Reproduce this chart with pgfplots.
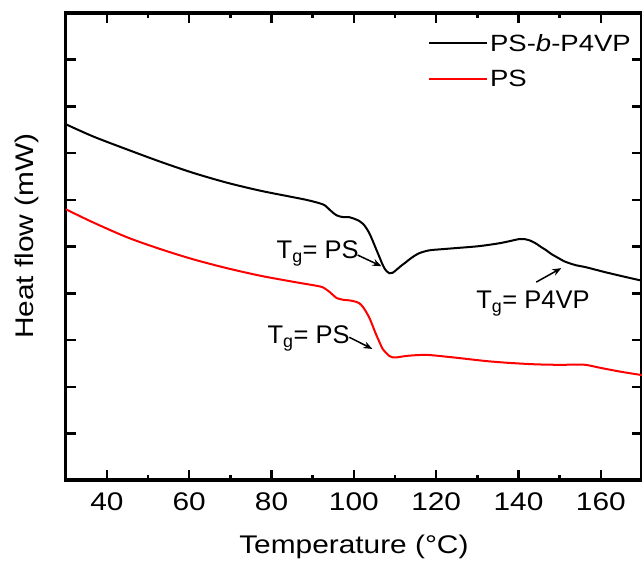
\documentclass[border=0pt]{standalone}
\usepackage{fontspec}
\setmainfont{Liberation Sans}[FakeStretch=1.17]
\newfontfamily\annfont{Liberation Sans}
\usepackage{pgfplots}
\pgfplotsset{compat=1.18}
\usetikzlibrary{arrows.meta}
\newcommand{\bigfont}{\fontsize{25.5}{30}\selectfont}
\begin{document}
\begin{tikzpicture}
\begin{axis}[
  name=ax,
  scale only axis,
  width=576pt, height=467pt,
  xmin=30, xmax=170, ymin=0, ymax=10,
  xtick={40,60,...,160},
  minor x tick num=1,
  ytick={1,...,9},
  yticklabels={},
  tick align=inside,
  major tick length=10pt,
  minor tick length=5pt,
  axis line style={line width=3.5pt},
  axis background/.style={draw=black, line width=3.5pt},
  major tick style={black, line width=2.5pt},
  minor tick style={black, line width=2.5pt},
  /pgf/number format/assume math mode=true,
  tick label style={font=\bigfont},
  xticklabel style={yshift=-9pt},
  xlabel={Temperature (°C)},
  xlabel style={font=\bigfont, at={(axis description cs:0.5,0)}, anchor=base, yshift=-73pt},
  ylabel={Heat flow (mW)},
  ylabel style={font=\bigfont, at={([xshift=-32.7pt,yshift=10.5pt]axis description cs:0,0.5)}, anchor=base},
  legend cell align=left,
  legend style={draw=none, fill=none, at={(1,1)}, anchor=north east, xshift=-6pt, yshift=-17pt,
    font=\fontsize{23.5}{28}\selectfont, row sep=13pt},
  legend image code/.code={\draw[#1, line width=2pt] (0pt,0pt) -- (58pt,0pt);},
]
\addplot[black, line width=2pt, smooth] coordinates {
(30,7.62) (36.6,7.36) (44.9,7.08) (52.9,6.82) (60.9,6.58) (69.1,6.37) (77.1,6.20)
(85.1,6.06) (88.5,6.00) (91.6,5.93) (93,5.88) (94.1,5.79) (95.8,5.67) (97.5,5.63)
(98.9,5.63) (100,5.60) (101.3,5.55) (102.2,5.49) (103.0,5.40) (103.8,5.28)
(104.5,5.14) (105.3,4.97) (106.2,4.78) (106.8,4.65) (107.4,4.54) (108,4.47)
(108.6,4.43) (109.4,4.44) (110.3,4.50) (111.5,4.59) (112.7,4.67) (114,4.76)
(115.9,4.86) (118.3,4.92) (120.7,4.94) (125,4.97) (130.4,5.01) (135.2,5.07)
(138,5.12) (140.1,5.16) (141.5,5.16) (142.5,5.14) (144,5.08) (145.5,4.99)
(146.6,4.93) (148,4.84) (149.8,4.75) (151,4.69) (152.2,4.65) (154,4.60)
(156.3,4.56) (161.2,4.45) (166,4.35) (170,4.27)
};
\addlegendentry{PS-\textit{b}-P4VP}
\addplot[red, line width=2pt, smooth] coordinates {
(30,5.80) (36.6,5.52) (44.9,5.20) (52.9,4.95) (60.9,4.73) (69.1,4.54) (77.1,4.38)
(85.1,4.25) (91.6,4.15) (93,4.10) (94.1,4.03) (95.1,3.95) (95.8,3.90)
(97.5,3.86) (98.9,3.85) (100.5,3.82) (101.3,3.79) (102.2,3.71) (103.0,3.60)
(103.8,3.47) (104.5,3.32) (105.3,3.14) (106.2,2.96) (107,2.81) (107.9,2.72)
(108.6,2.66) (109.4,2.63) (110.5,2.63) (112.7,2.66) (115.9,2.68) (118.3,2.68)
(124,2.63) (132.2,2.55) (138,2.51) (144.3,2.48) (150,2.47) (154,2.475) (156.3,2.47)
(160.2,2.40) (165,2.32) (170,2.25)
};
\addlegendentry{PS}
\node[anchor=base west, inner sep=0pt, font=\annfont\bigfont] at (axis cs:81.2,4.75) {T\textsubscript{g}= PS};
\draw[-{Stealth[length=9pt,width=7pt]}, line width=1.5pt] (axis cs:100.9,4.82) -- (axis cs:106.7,4.58);
\node[anchor=base west, inner sep=0pt, font=\annfont\bigfont] at (axis cs:79.0,2.93) {T\textsubscript{g}= PS};
\draw[-{Stealth[length=9pt,width=7pt]}, line width=1.5pt] (axis cs:98.9,3.06) -- (axis cs:104.5,2.81);
\node[anchor=base west, inner sep=0pt, font=\annfont\bigfont] at (axis cs:129.7,3.68) {T\textsubscript{g}= P4VP};
\draw[-{Stealth[length=9pt,width=7pt]}, line width=1.5pt] (axis cs:144.3,4.24) -- (axis cs:150.4,4.54);
\end{axis}
\pgfresetboundingbox
\path ([shift={(-65.7pt,-85pt)}]ax.south west) rectangle ([shift={(0pt,13pt)}]ax.north east);
\end{tikzpicture}
\end{document}
